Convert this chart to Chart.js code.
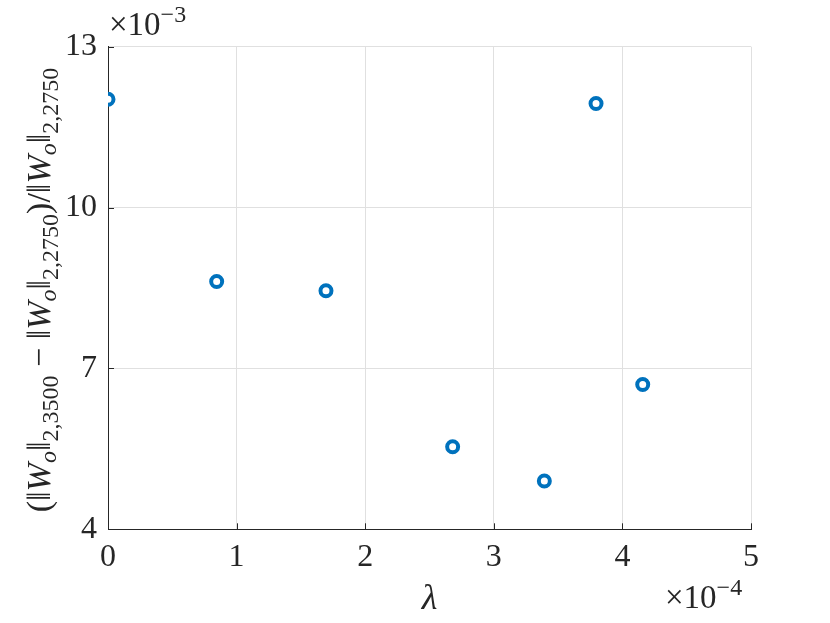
<!DOCTYPE html>
<html>
<head>
<meta charset="utf-8">
<script src="https://cdn.jsdelivr.net/npm/chart.js@4/dist/chart.umd.min.js"></script>
<style>
  html, body { margin: 0; padding: 0; background: #fff; }
  canvas { display: block; }
</style>
</head>
<body>
<canvas id="chart" width="830" height="623"></canvas>
<script>
// lambda values, in units of 1e-4
var lambdaE4 = [0, 0.845, 1.695, 2.68, 3.393, 3.795, 4.158];
// relative norm change, in units of 1e-3
var ratioE3 = [12.02, 8.62, 8.45, 5.54, 4.90, 11.94, 6.70];
var xTicks = [0, 1, 2, 3, 4, 5];
var yTicks = [4, 7, 10, 13];

var serif = '"Liberation Serif", "DejaVu Serif", serif';
var axisColor = '#262626';

var points = [];
for (var i = 0; i < lambdaE4.length; i++) {
  points.push({ x: lambdaE4[i], y: ratioE3[i] });
}

// draws a list of [text, font, dy] pieces one after the other
function drawRuns(ctx, runs, x, y) {
  for (var i = 0; i < runs.length; i++) {
    ctx.font = runs[i][1];
    ctx.fillText(runs[i][0], x, y + (runs[i][2] || 0));
    x += ctx.measureText(runs[i][0]).width;
  }
}
function runsWidth(ctx, runs) {
  var w = 0;
  for (var i = 0; i < runs.length; i++) {
    ctx.font = runs[i][1];
    w += ctx.measureText(runs[i][0]).width;
  }
  return w;
}

var extras = {
  id: 'extras',
  afterDraw: function (chart) {
    var ctx = chart.ctx;
    var area = chart.chartArea;
    var xs = chart.scales.x, ys = chart.scales.y;
    ctx.save();
    // inward tick marks
    ctx.strokeStyle = axisColor;
    ctx.lineWidth = 1;
    ctx.beginPath();
    xTicks.forEach(function (v) {
      var px = Math.round(xs.getPixelForValue(v)) + 0.5;
      ctx.moveTo(px, area.bottom);
      ctx.lineTo(px, area.bottom - 6);
    });
    yTicks.forEach(function (v) {
      var py = Math.round(ys.getPixelForValue(v)) + 0.5;
      ctx.moveTo(area.left, py);
      ctx.lineTo(area.left + 6, py);
    });
    ctx.stroke();

    ctx.fillStyle = axisColor;
    ctx.textBaseline = 'alphabetic';
    ctx.textAlign = 'left';
    var big = '33px ' + serif;
    var sup = '24px ' + serif;
    // exponent labels
    drawRuns(ctx, [['\u00d710', big, 0], ['\u22123', sup, -13]], area.left + 1, 35);
    drawRuns(ctx, [['\u00d710', big, 0], ['\u22124', sup, -13]], area.right - 86, 608);

    // x title
    ctx.font = 'italic 36px ' + serif;
    ctx.textAlign = 'center';
    ctx.fillText('\u03bb', (area.left + area.right) / 2, 609);

    // y title with subscripts
    ctx.textAlign = 'left';
    var n = '34px ' + serif;
    var it = 'italic 34px ' + serif;
    var sub = 'italic 24px ' + serif;
    var subn = '24px ' + serif;
    var runs = [
      ['(\u2016', n, 0], ['W', it, 0], ['o', sub, 6], ['\u2016', n, 0], ['2,3500', subn, 8],
      [' \u2212 \u2016', n, 0], ['W', it, 0], ['o', sub, 6], ['\u2016', n, 0], ['2,2750', subn, 8],
      [')/\u2016', n, 0], ['W', it, 0], ['o', sub, 6], ['\u2016', n, 0], ['2,2750', subn, 8]
    ];
    var w = runsWidth(ctx, runs);
    ctx.translate(50, (area.top + area.bottom) / 2 + 2);
    ctx.rotate(-Math.PI / 2);
    drawRuns(ctx, runs, -w / 2, 0);
    ctx.restore();
  }
};

var ctx = document.getElementById('chart');
var chart = new Chart(ctx, {
  type: 'scatter',
  data: {
    datasets: [{
      data: points,
      pointRadius: 5.5,
      pointHoverRadius: 5.5,
      pointBorderWidth: 4,
      borderColor: '#0072BD',
      backgroundColor: '#ffffff'
    }]
  },
  options: {
    responsive: false,
    animation: false,
    devicePixelRatio: 1,
    layout: { padding: { left: 0, top: 46.7, right: 79, bottom: 0 } },
    plugins: { legend: { display: false }, tooltip: { enabled: false } },
    scales: {
      x: {
        type: 'linear',
        min: 0,
        max: 5,
        afterBuildTicks: function (scale) {
          scale.ticks = xTicks.map(function (v) { return { value: v }; });
        },
        afterFit: function (scale) { scale.height = 93.7; },
        grid: { color: '#e0e0e0', drawTicks: false },
        border: { color: axisColor, width: 1 },
        ticks: {
          color: axisColor,
          padding: 9,
          maxRotation: 0,
          font: { family: serif, size: 32 }
        }
      },
      y: {
        type: 'linear',
        min: 4,
        max: 13,
        afterBuildTicks: function (scale) {
          scale.ticks = yTicks.map(function (v) { return { value: v }; });
        },
        afterFit: function (scale) { scale.width = 108; },
        grid: { color: '#e0e0e0', drawTicks: false },
        border: { color: axisColor, width: 1 },
        ticks: {
          color: axisColor,
          padding: 11,
          font: { family: serif, size: 32 }
        }
      }
    }
  },
  plugins: [extras]
});
</script>
</body>
</html>
